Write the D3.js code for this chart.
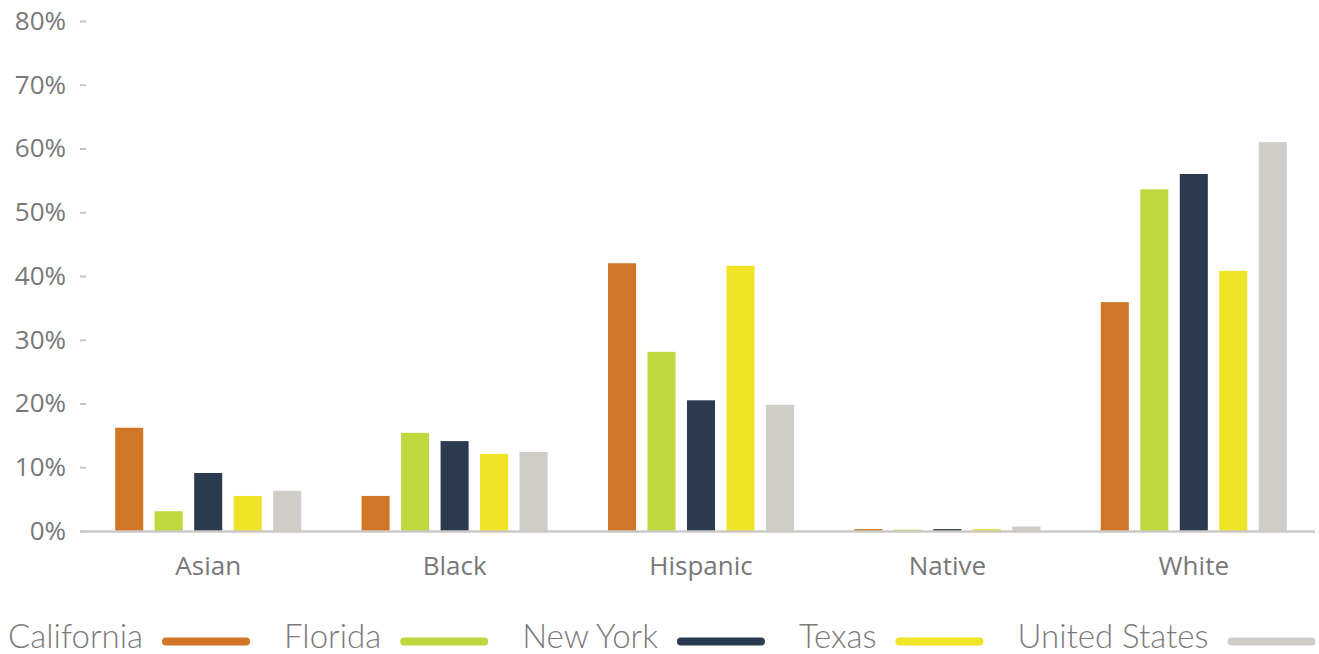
<!DOCTYPE html>
<html><head><meta charset="utf-8">
<script src="https://cdn.jsdelivr.net/npm/d3@7"></script>
<style>body{margin:0;background:#fff}</style>
</head><body><svg id="c" width="1319" height="654"></svg>
<script>
const categories = ["Asian","Black","Hispanic","Native","White"];
const seriesNames = ["California","Florida","New York","Texas","United States"];
const california = [16.2, 5.5, 42.0, 0.3, 35.9];
const florida = [3.1, 15.4, 28.1, 0.2, 53.6];
const newYork = [9.1, 14.1, 20.5, 0.3, 56.0];
const texas = [5.5, 12.1, 41.6, 0.3, 40.8];
const unitedStates = [6.3, 12.4, 19.8, 0.7, 61.0];
const yTicks = [0,10,20,30,40,50,60,70,80];
const colors = ["#D07627","#BFD83E","#2A3B50","#F0E427","#D0CCC8"];
const values = [california, florida, newYork, texas, unitedStates];

const svg = d3.select("#c");
const x0 = d3.scaleBand().domain(categories).range([85, 1317]).paddingInner(0.245).paddingOuter(0.1225);
const x1 = d3.scaleBand().domain(seriesNames).range([0, x0.bandwidth()]).paddingInner(0.29).paddingOuter(0);
const y = d3.scaleLinear().domain([0, 80]).range([531, 21]);

// y axis
const ya = svg.append("g").attr("transform","translate(86,0)")
  .call(d3.axisLeft(y).tickValues(yTicks).tickFormat(d=>d+"%").tickSize(6).tickPadding(14));
ya.select(".domain").remove();
ya.selectAll(".tick line").attr("stroke","#c8c5c1").attr("stroke-width",2);
ya.selectAll(".tick text").attr("fill","#787878").style("font-family","'Open Sans'").style("font-size","26px");

// bars
const g = svg.append("g");
categories.forEach((c, ci) => {
  seriesNames.forEach((s, si) => {
    const v = values[si][ci];
    g.append("rect")
      .attr("x", x0(c) + x1(s))
      .attr("y", y(v))
      .attr("width", x1.bandwidth())
      .attr("height", y(0) - y(v))
      .attr("fill", colors[si]);
  });
});

// baseline
svg.append("line").attr("x1",80).attr("x2",1315).attr("y1",y(0)+0.5).attr("y2",y(0)+0.5)
  .attr("stroke","#ccc8c4").attr("stroke-width",2.5);

// x labels
const xa = svg.append("g").attr("transform",`translate(0,${y(0)})`)
  .call(d3.axisBottom(x0).tickSize(0).tickPadding(26));
xa.select(".domain").remove();
xa.selectAll(".tick text").attr("fill","#787878").style("font-family","'Open Sans'").style("font-size","26px");

// legend
const leg = svg.append("g");
let lx = 8;
seriesNames.forEach((s, i) => {
  const t = leg.append("text").attr("x", lx).attr("y", 648).text(s)
    .attr("fill","#7a7a7a").style("font-family","Lato").style("font-weight","300").style("font-size","33px");
  const w = t.node().getComputedTextLength();
  const sx = lx + w + 19;
  leg.append("line").attr("x1", sx+4).attr("x2", sx+84).attr("y1", 641.5).attr("y2", 641.5)
    .attr("stroke", colors[i]).attr("stroke-width", 8).attr("stroke-linecap","round");
  lx = sx + 88 + 34;
});
</script></body></html>
